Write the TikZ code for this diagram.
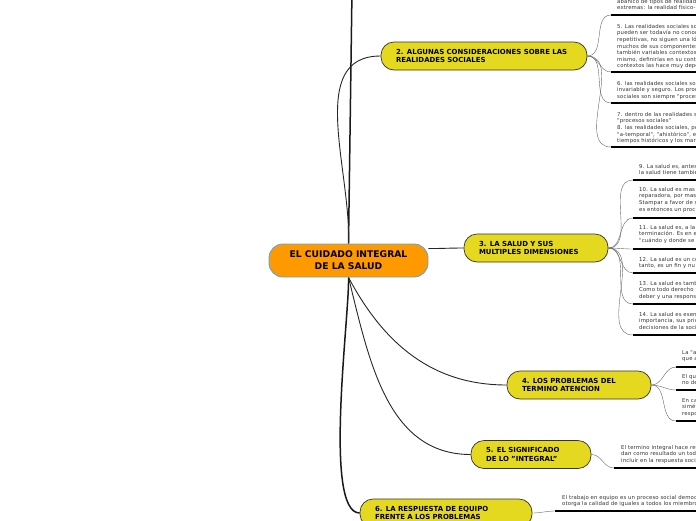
\documentclass[tikz,border=0pt]{standalone}
\usepackage{fontspec}
\setmainfont{DejaVu Sans}
\newfontfamily\leaffont[LetterSpace=2.5]{DejaVu Sans}
\usetikzlibrary{backgrounds}
\definecolor{mapyellow}{HTML}{E5D91F}
\definecolor{maporange}{HTML}{FF9900}
\definecolor{mapblue}{HTML}{5FA6D6}
\definecolor{leafgray}{HTML}{333333}
\tikzset{
	root/.style={draw=mapblue,line width=0.9pt,fill=maporange,rounded corners=14pt,minimum width=159pt,minimum height=33pt,align=center,inner sep=0pt,font=\fontsize{9.2}{12}\selectfont\bfseries},
	topic/.style={draw=black!80,line width=0.7pt,fill=mapyellow,rounded corners=13pt,minimum height=28pt,align=left,inner xsep=15pt,inner ysep=0pt,font=\fontsize{6.95}{8.2}\selectfont\bfseries},
	leaf/.style={anchor=north west,inner sep=0pt,align=left,text=leafgray,font=\leaffont\fontsize{5.35}{6.6}\selectfont},
	limb/.style={line width=0.9pt,black!85},
	trunk/.style={line width=1.5pt,black!90},
	twig/.style={line width=0.4pt,black!60},
	rule/.style={line width=1.1pt,black}
}
\begin{document}
\begin{tikzpicture}[x=1pt,y=-1pt]
	\useasboundingbox (0,0) rectangle (696,520);
	\clip (0,0) rectangle (696,520);
	\node[root] (care) at (348.5,260.5) {EL CUIDADO INTEGRAL\\DE LA SALUD};
	\node[topic,text width=176pt] (realities) at (484,56) {2. ALGUNAS CONSIDERACIONES SOBRE LAS\\REALIDADES SOCIALES};
	\node[topic,text width=114pt] (health) at (536,248) {3. LA SALUD Y SUS\\MULTIPLES DIMENSIONES};
	\node[topic,text width=114pt] (attention) at (579,385) {4. LOS PROBLEMAS DEL\\TERMINO ATENCION};
	\node[topic,text width=90pt] (integral) at (531,454.5) {5. EL SIGNIFICADO\\DE LO "INTEGRAL"};
	\node[topic,text width=142pt] (team) at (446,513) {6. LA RESPUESTA DE EQUIPO\\FRENTE A LOS PROBLEMAS};
	\coordinate (up) at (352,-10);

	\node[leaf] (r1) at (617,-1) {abanico de tipos de realidad\\extremas: la realidad físico-};
	\node[leaf] (r2) at (617,24) {5. Las realidades sociales so\\pueden ser todavía no conoc\\repetitivas, no siguen una ló\\muchos de sus componentes\\también variables contextos\\mismo, definirlas en su cont\\contextos las hace muy depe};
	\node[leaf] (r3) at (617,81) {6. las realidades sociales son\\invariable y seguro. Los proc\\sociales son siempre "proces};
	\node[leaf] (r4) at (617,112) {7. dentro de las realidades s\\"procesos sociales"\\8. las realidades sociales, po\\"a-temporal", "ahistórico", el\\tiempos históricos y los mar};
	\coordinate (r1u) at (611,15);
	\coordinate (r2u) at (611,72);
	\coordinate (r3u) at (611,103);
	\coordinate (r4u) at (611,147);

	\node[leaf] (h1) at (639,164) {9. La salud es, antes\\la salud tiene tambié};
	\node[leaf] (h2) at (639,187) {10. La salud es mas\\reparadora, por mas\\Stampar a favor de s\\es entonces un proc};
	\node[leaf] (h3) at (639,225) {11. La salud es, a la\\terminación. Es en e\\"cuándo y donde se p};
	\node[leaf] (h4) at (639,257) {12. La salud es un co\\tanto, es un fin y nu};
	\node[leaf] (h5) at (639,281) {13. La salud es tamb\\Como todo derecho t\\deber y una respons};
	\node[leaf] (h6) at (639,312) {14. La salud es esen\\importancia, sus pric\\decisiones de la soci};
	\coordinate (h1u) at (633,180);
	\coordinate (h2u) at (633,218);
	\coordinate (h3u) at (633,249);
	\coordinate (h4u) at (633,273);
	\coordinate (h5u) at (633,304);
	\coordinate (h6u) at (633,335);

	\node[leaf] (a1) at (682,350) {La "a\\que a};
	\node[leaf] (a2) at (682,374) {El qu\\no de};
	\node[leaf] (a3) at (682,398) {En ca\\simét\\respo};
	\coordinate (a1u) at (676,367);
	\coordinate (a2u) at (676,390);
	\coordinate (a3u) at (676,421);

	\node[leaf] (i1) at (621,445) {El termino integral hace ref\\dan como resultado un tod\\incluir en la respuesta soci};
	\coordinate (i1u) at (614,468);
	\node[leaf] (t1) at (562,495) {El trabajo en equipo es un proceso social democ\\otorga la calidad de iguales a todos los miembro};
	\coordinate (t1u) at (555,511);

	\begin{pgfonlayer}{background}
		\draw[trunk] (care.north) -- (up);
		\draw[limb] (care.north) to[out=88,in=180] (realities.west);
		\draw[limb] ([yshift=-5pt]care.north east) to[out=0,in=180] (health.west);
		\draw[limb] (care.south) to[out=-62,in=180] (attention.west);
		\draw[limb] (care.south) to[out=-76,in=180] (integral.west);
		\draw[trunk] (care.south) to[out=-88,in=180,looseness=0.4] (team.west);

		\foreach \u in {r1u,r2u,r3u,r4u}
			\draw[twig] (realities.east) to[out=0,in=180] (\u);
		\foreach \u in {h1u,h2u,h3u,h4u,h5u,h6u}
			\draw[twig] (health.east) to[out=0,in=180] (\u);
		\foreach \u in {a1u,a2u,a3u}
			\draw[twig] (attention.east) to[out=0,in=180] (\u);
		\draw[twig] (integral.east) to[out=0,in=180] (i1u);
		\draw[twig] (team.east) to[out=0,in=180] (t1u);

		\foreach \u in {r1u,r2u,r3u,r4u,h1u,h2u,h3u,h4u,h5u,h6u,a1u,a2u,a3u,i1u,t1u}
			\draw[rule] (\u) -- ++(150,0);
	\end{pgfonlayer}
\end{tikzpicture}
\end{document}
